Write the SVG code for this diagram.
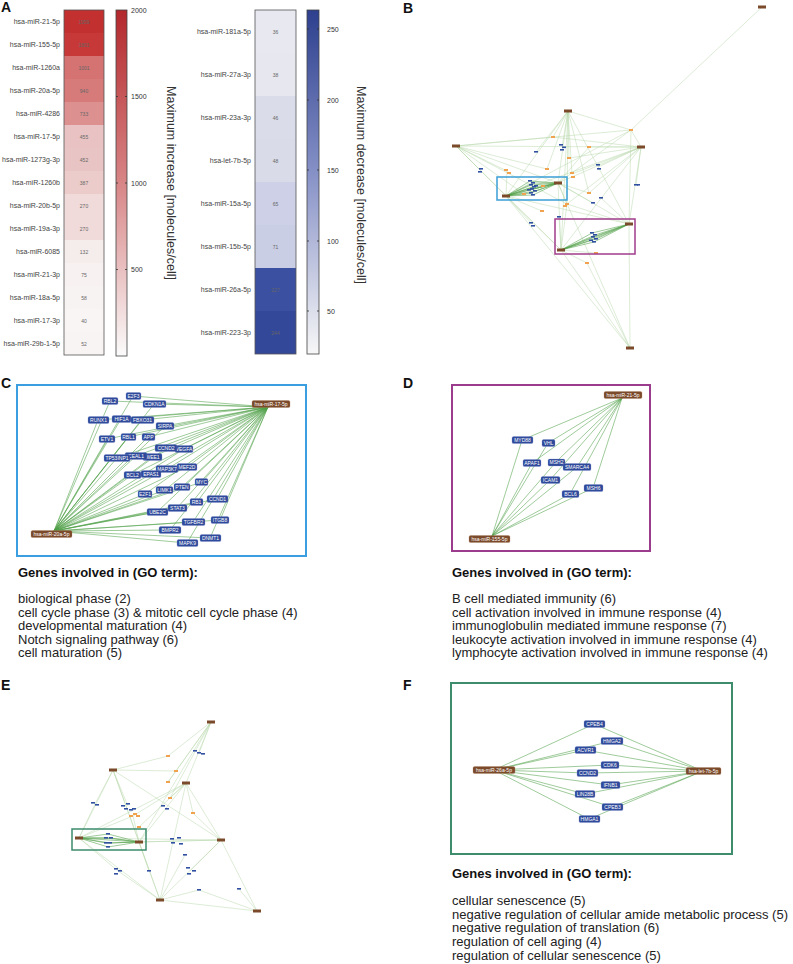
<svg xmlns="http://www.w3.org/2000/svg" width="793" height="964" viewBox="0 0 793 964">
<defs>
<linearGradient id="gR" x1="0" y1="0" x2="0" y2="1"><stop offset="0" stop-color="#b3282c"/><stop offset="0.5" stop-color="#d88586"/><stop offset="1" stop-color="#fbfbfb"/></linearGradient>
<linearGradient id="gB" x1="0" y1="0" x2="0" y2="1"><stop offset="0" stop-color="#2d3f8e"/><stop offset="0.47" stop-color="#8590c6"/><stop offset="1" stop-color="#f7f7f7"/></linearGradient>
</defs>
<style>
text{font-family:"Liberation Sans",Arial,sans-serif}
.lbl{font-size:14px;font-weight:bold;fill:#111}
.row{font-size:7px;fill:#444;text-anchor:end}
.val{font-size:5px;fill:#666;text-anchor:middle}
.tk{font-size:7px;fill:#333}
.cbt{font-size:12.5px;fill:#333;text-anchor:middle}
.hb{stroke:#555;stroke-width:0.8;fill:none}
.tm{stroke:#333;stroke-width:0.8}
.g rect{fill:#2f4a9b;stroke:#7d8fd0;stroke-width:0.3}
.g text,.m text{fill:#fff;font-size:5px;text-anchor:middle}
.m rect{fill:#7b4a2b;stroke:#b08060;stroke-width:0.3}
.e{stroke:#4f9f48;stroke-width:0.55;fill:none}
.el{stroke:#b8d9ad;stroke-width:0.5;fill:none}
.ed{stroke:#4e9e46;stroke-width:0.55;fill:none}
.sm{fill:#7b4a2b}
.so{fill:#f0a24e}
.sb{fill:#3150a2}
.got{font-size:13px;font-weight:bold;fill:#111}
.go{font-size:13px;fill:#222}
</style>

<!-- Panel labels -->
<text class="lbl" x="1" y="12">A</text>
<text class="lbl" x="403" y="13">B</text>
<text class="lbl" x="1" y="388">C</text>
<text class="lbl" x="403" y="388">D</text>
<text class="lbl" x="1" y="690">E</text>
<text class="lbl" x="403" y="690">F</text>

<!-- Panel A heatmap 1 -->
<g id="heatmap-increase">
<rect x="64" y="10" width="40" height="23" fill="#c2302f"/>
<rect x="64" y="33" width="40" height="23" fill="#c73938"/>
<rect x="64" y="56" width="40" height="23" fill="#d47372"/>
<rect x="64" y="79" width="40" height="23" fill="#d67b7a"/>
<rect x="64" y="102" width="40" height="23" fill="#dc9190"/>
<rect x="64" y="125" width="40" height="23" fill="#e9c3c3"/>
<rect x="64" y="148" width="40" height="23" fill="#e9c4c4"/>
<rect x="64" y="171" width="40" height="23" fill="#ecccca"/>
<rect x="64" y="194" width="40" height="23" fill="#f0dada"/>
<rect x="64" y="217" width="40" height="23" fill="#f0dada"/>
<rect x="64" y="240" width="40" height="23" fill="#f5ecec"/>
<rect x="64" y="263" width="40" height="23" fill="#f7f1f1"/>
<rect x="64" y="286" width="40" height="23" fill="#f8f3f3"/>
<rect x="64" y="309" width="40" height="23" fill="#f9f5f5"/>
<rect x="64" y="332" width="40" height="23" fill="#f8f4f4"/>
<rect class="hb" x="64" y="10" width="40" height="345"/>
<text class="row" x="60" y="24">hsa-miR-21-5p</text>
<text class="row" x="60" y="47">hsa-miR-155-5p</text>
<text class="row" x="60" y="70">hsa-miR-1260a</text>
<text class="row" x="60" y="93">hsa-miR-20a-5p</text>
<text class="row" x="60" y="116">hsa-miR-4286</text>
<text class="row" x="60" y="139">hsa-miR-17-5p</text>
<text class="row" x="60" y="162">hsa-miR-1273g-3p</text>
<text class="row" x="60" y="185">hsa-miR-1260b</text>
<text class="row" x="60" y="208">hsa-miR-20b-5p</text>
<text class="row" x="60" y="231">hsa-miR-19a-3p</text>
<text class="row" x="60" y="254">hsa-miR-6085</text>
<text class="row" x="60" y="277">hsa-miR-21-3p</text>
<text class="row" x="60" y="300">hsa-miR-18a-5p</text>
<text class="row" x="60" y="323">hsa-miR-17-3p</text>
<text class="row" x="60" y="346">hsa-miR-29b-1-5p</text>
<text class="val" x="84" y="23.5">1959</text>
<text class="val" x="84" y="46.5">1801</text>
<text class="val" x="84" y="69.5">1001</text>
<text class="val" x="84" y="92.5">940</text>
<text class="val" x="84" y="115.5">733</text>
<text class="val" x="84" y="138.5">455</text>
<text class="val" x="84" y="161.5">452</text>
<text class="val" x="84" y="184.5">387</text>
<text class="val" x="84" y="207.5">270</text>
<text class="val" x="84" y="230.5">270</text>
<text class="val" x="84" y="253.5">132</text>
<text class="val" x="84" y="276.5">75</text>
<text class="val" x="84" y="299.5">58</text>
<text class="val" x="84" y="322.5">40</text>
<text class="val" x="84" y="345.5">52</text>
</g>
<g id="colorbar-increase">
<rect x="116" y="10" width="11" height="346" fill="url(#gR)" stroke="#444" stroke-width="0.8"/>
<path class="tm" d="M116 96.5h2M125 96.5h2M116 183h2M125 183h2M116 269.5h2M125 269.5h2"/>
<text class="tk" x="131" y="12.5">2000</text>
<text class="tk" x="131" y="99">1500</text>
<text class="tk" x="131" y="185.5">1000</text>
<text class="tk" x="131" y="272">500</text>
<text class="cbt" transform="translate(167,183) rotate(90)">Maximum increase [molecules/cell]</text>
</g>

<!-- Panel A heatmap 2 -->
<g id="heatmap-decrease">
<rect x="255" y="10" width="41" height="43" fill="#e7e8f0"/>
<rect x="255" y="53" width="41" height="43" fill="#e6e7ef"/>
<rect x="255" y="96" width="41" height="43" fill="#dbdcea"/>
<rect x="255" y="139" width="41" height="43" fill="#d9dbe9"/>
<rect x="255" y="182" width="41" height="43" fill="#cdd0e6"/>
<rect x="255" y="225" width="41" height="43" fill="#cacee5"/>
<rect x="255" y="268" width="41" height="43" fill="#3b50a0"/>
<rect x="255" y="311" width="41" height="43" fill="#34489a"/>
<rect class="hb" x="255" y="10" width="41" height="344"/>
<text class="row" x="251" y="34">hsa-miR-181a-5p</text>
<text class="row" x="251" y="77">hsa-miR-27a-3p</text>
<text class="row" x="251" y="120">hsa-miR-23a-3p</text>
<text class="row" x="251" y="163">hsa-let-7b-5p</text>
<text class="row" x="251" y="206">hsa-miR-15a-5p</text>
<text class="row" x="251" y="249">hsa-miR-15b-5p</text>
<text class="row" x="251" y="292">hsa-miR-26a-5p</text>
<text class="row" x="251" y="335">hsa-miR-223-3p</text>
<text class="val" x="275.5" y="33.5">36</text>
<text class="val" x="275.5" y="76.5">38</text>
<text class="val" x="275.5" y="119.5">46</text>
<text class="val" x="275.5" y="162.5">48</text>
<text class="val" x="275.5" y="205.5">65</text>
<text class="val" x="275.5" y="248.5">71</text>
<text class="val" x="275.5" y="291.5" fill="#22337a">227</text>
<text class="val" x="275.5" y="334.5" fill="#22337a">244</text>
</g>
<g id="colorbar-decrease">
<rect x="307" y="10" width="12" height="344" fill="url(#gB)" stroke="#444" stroke-width="0.8"/>
<path class="tm" d="M307 29h2M317 29h2M307 100h2M317 100h2M307 170h2M317 170h2M307 241h2M317 241h2M307 311h2M317 311h2"/>
<text class="tk" x="327" y="31.5">250</text>
<text class="tk" x="327" y="102.5">200</text>
<text class="tk" x="327" y="172.5">150</text>
<text class="tk" x="327" y="243.5">100</text>
<text class="tk" x="327" y="313.5">50</text>
<text class="cbt" transform="translate(357,185) rotate(90)">Maximum decrease [molecules/cell]</text>
</g>

<!-- Connectors -->
<g id="connectors">
<!-- Panel B -->
<path class="el" d="M762 7L631 130M568 111L506 196M568 111L558 183M568 111L561 250M568 111L629 224M568 111L631 130M568 111L547 169M568 111L572 174M568 111L562 147M568 111L569 158M568 111L589 193M568 111L553 137M568 111L536 152M568 111L567 204M456 146L641 147M456 146L506 196M456 146L558 183M456 146L507 171M456 146L480 170M456 146L547 169M456 146L553 137M456 146L567 204M456 146L524 194M456 146L561 250M456 146L631 130M641 147L629 224M641 147L561 250M641 147L558 183M641 147L506 196M641 147L589 147M641 147L598 167M641 147L636 185M641 147L567 204M641 147L589 193M641 147L631 130M641 147L572 174M506 196L561 250M506 196L542 211M506 196L532 224M506 196L524 194M506 196L507 171M558 183L561 250M558 183L629 224M558 183L567 204M558 183L589 193M558 183L593 203M558 183L589 147M629 224L630 348M629 224L567 204M629 224L601 198M629 224L631 130M629 224L506 196M561 250L630 348M561 250L587 263M561 250L596 253M561 250L559 217M561 250L567 204M630 348L587 263M630 348L506 196M630 348L558 183M631 130L506 196M631 130L558 183M553 137L641 147M569 158L641 147"/>
<path class="ed" d="M506 196L558 183M506 196L530 181M506 196L533 183M506 196L531 185M506 196L534 187M506 196L532 189M506 196L535 191M506 196L531 193M506 196L533 195M506 196L536 186M558 183L530 181M558 183L533 183M558 183L531 185M558 183L534 187M558 183L532 189M558 183L535 191M558 183L531 193M558 183L533 195M558 183L529 190M629 224L561 250M629 224L592 233M629 224L595 235M629 224L593 237M629 224L596 239M629 224L591 240M629 224L594 242M561 250L592 233M561 250L595 235M561 250L593 237M561 250L596 239M561 250L591 240M561 250L594 242"/>
<!-- Panel C -->
<path class="e" d="M54 531L110 401M54 531L133 396M54 531L154 404M54 531L98 420M54 531L121 419M54 531L142 420M54 531L165 426M54 531L107 439M54 531L128 437M54 531L148 437M54 531L166 448M54 531L184 449M54 531L117 458M54 531L136 456M54 531L152 457M54 531L167 469M54 531L187 467M54 531L132 475M54 531L151 474M54 531L202 482M54 531L145 494M54 531L165 490M54 531L182 487M54 531L197 502M54 531L217 499M54 531L157 512M54 531L177 508M54 531L193 522M54 531L220 520M54 531L170 530M54 531L210 538M54 531L187 543M268 407L110 401M268 407L133 396M268 407L154 404M268 407L98 420M268 407L121 419M268 407L142 420M268 407L165 426M268 407L107 439M268 407L128 437M268 407L148 437M268 407L166 448M268 407L184 449M268 407L117 458M268 407L136 456M268 407L152 457M268 407L167 469M268 407L187 467M268 407L132 475M268 407L151 474M268 407L202 482M268 407L145 494M268 407L165 490M268 407L182 487M268 407L197 502M268 407L217 499M268 407L157 512M268 407L177 508M268 407L193 522M268 407L220 520M268 407L170 530M268 407L210 538M268 407L187 543"/>
<!-- Panel D -->
<path class="e" stroke-width="0.5" d="M622 398L522 440M622 398L548 443M622 398L532 463M622 398L556 462M622 398L577 467M622 398L550 480M622 398L593 488M622 398L570 494M492 536L522 440M492 536L548 443M492 536L532 463M492 536L556 462M492 536L577 467M492 536L550 480M492 536L593 488M492 536L570 494"/>
<!-- Panel E -->
<path class="el" d="M113 770L168 756M168 756L211 722M113 770L176 771M211 722L186 783M211 722L176 771M211 722L168 782M211 722L199 753M211 722L139 842M211 722L170 798M113 770L79 838M113 770L139 842M113 770L160 900M113 770L221 840M113 770L128 806M113 770L95 804M186 783L79 838M186 783L139 842M186 783L221 840M186 783L160 900M186 783L170 798M186 783L193 813M186 783L139 827M186 783L133 816M79 838L221 840M79 838L160 900M79 838L95 804M79 838L133 816M79 838L118 871M139 842L221 840M139 842L160 900M139 842L176 841M139 842L133 816M139 842L149 871M221 840L160 900M221 840L257 911M221 840L193 813M221 840L190 871M221 840L176 841M160 900L257 911M160 900L118 871M160 900L185 855M160 900L199 890M257 911L239 889M257 911L199 890M176 771L168 782"/>
<path class="ed" d="M79 838L139 842M79 838L108 834M79 838L106 838M79 838L111 838M79 838L106 843M79 838L110 843M79 838L108 847M139 842L108 834M139 842L106 838M139 842L111 838M139 842L106 843M139 842L110 843M139 842L108 847"/>
<!-- Panel F -->
<path class="e" stroke-width="0.5" d="M494 770L594 724M494 770L612 741M494 770L585 750M494 770L610 765M494 770L587 773M494 770L610 785M494 770L585 794M494 770L612 807M494 770L589 819M703 771L594 724M703 771L612 741M703 771L585 750M703 771L610 765M703 771L587 773M703 771L610 785M703 771L585 794M703 771L612 807M703 771L589 819"/>
</g>

<!-- Panel B network nodes -->
<g id="network-B">
<rect class="sm" x="758" y="5.5" width="8" height="3"/>
<rect class="sm" x="564" y="109.5" width="8" height="3"/>
<rect class="sm" x="452" y="144.5" width="8" height="3"/>
<rect class="sm" x="637" y="145.5" width="8" height="3"/>
<rect class="sm" x="502" y="194.5" width="8" height="3"/>
<rect class="sm" x="554" y="181.5" width="8" height="3"/>
<rect class="sm" x="625" y="222.5" width="8" height="3"/>
<rect class="sm" x="557" y="248.5" width="8" height="3"/>
<rect class="sm" x="626" y="346.5" width="8" height="3"/>
<g class="so">
<rect x="629" y="129" width="4" height="2"/><rect x="551" y="136" width="4" height="2"/><rect x="587" y="146" width="4" height="2"/><rect x="567" y="157" width="4" height="2"/><rect x="545" y="168" width="4" height="2"/><rect x="504" y="169" width="4" height="2"/><rect x="507" y="172" width="4" height="2"/><rect x="570" y="172" width="4" height="2"/><rect x="571" y="176" width="4" height="2"/><rect x="587" y="192" width="4" height="2"/><rect x="565" y="203" width="4" height="2"/><rect x="563" y="205" width="4" height="2"/><rect x="540" y="210" width="4" height="2"/><rect x="585" y="262" width="4" height="2"/><rect x="594" y="252" width="4" height="2"/><rect x="522" y="193" width="4" height="2"/><rect x="541" y="185" width="4" height="2"/>
</g>
<g class="sb">
<rect x="559" y="144" width="4" height="1.6"/><rect x="562" y="146.5" width="4" height="1.6"/><rect x="560" y="149" width="4" height="1.6"/><rect x="534" y="151" width="4" height="1.6"/><rect x="479" y="168" width="4" height="1.6"/><rect x="478" y="171" width="4" height="1.6"/><rect x="596" y="164" width="4" height="1.6"/><rect x="597" y="168" width="4" height="1.6"/><rect x="634" y="184" width="4" height="1.6"/><rect x="637" y="184" width="3" height="1.6"/>
<rect x="528" y="180" width="4" height="1.6"/><rect x="531" y="182" width="4" height="1.6"/><rect x="529" y="184" width="4" height="1.6"/><rect x="532" y="186" width="4" height="1.6"/><rect x="530" y="188" width="4" height="1.6"/><rect x="533" y="190" width="4" height="1.6"/><rect x="529" y="192" width="4" height="1.6"/><rect x="531" y="194" width="4" height="1.6"/><rect x="534" y="185" width="4" height="1.6"/><rect x="527" y="189" width="4" height="1.6"/>
<rect x="599" y="197" width="4" height="1.6"/><rect x="591" y="202" width="4" height="1.6"/><rect x="557" y="216" width="4" height="1.6"/><rect x="529" y="222" width="4" height="1.6"/><rect x="531" y="225" width="4" height="1.6"/>
<rect x="590" y="232" width="4" height="1.6"/><rect x="593" y="234" width="4" height="1.6"/><rect x="591" y="236" width="4" height="1.6"/><rect x="594" y="238" width="4" height="1.6"/><rect x="589" y="239.5" width="4" height="1.6"/><rect x="592" y="241" width="4" height="1.6"/>
</g>
<rect x="497" y="177" width="70" height="23" fill="none" stroke="#3a9fd8" stroke-width="1.5"/>
<rect x="555" y="219" width="80" height="35" fill="none" stroke="#a03c8c" stroke-width="1.5"/>
</g>

<!-- Panel C -->
<g id="panel-C">
<rect x="17" y="385" width="289" height="171" fill="none" stroke="#3a9ee0" stroke-width="2"/>
<g id="C-RBL2" class="g"><rect x="102" y="397.5" width="16" height="7" rx="1.5"/><text x="110" y="402.8">RBL2</text></g>
<g id="C-E2F3" class="g"><rect x="126" y="392.5" width="15" height="7" rx="1.5"/><text x="133.5" y="397.8">E2F3</text></g>
<g id="C-CDKN1A" class="g"><rect x="143" y="400.5" width="23" height="7" rx="1.5"/><text x="154.5" y="405.8">CDKN1A</text></g>
<g id="C-RUNX1" class="g"><rect x="88" y="416.5" width="21" height="7" rx="1.5"/><text x="98.5" y="421.8">RUNX1</text></g>
<g id="C-HIF1A" class="g"><rect x="112" y="415.5" width="19" height="7" rx="1.5"/><text x="121.5" y="420.8">HIF1A</text></g>
<g id="C-FBXO31" class="g"><rect x="131" y="416.5" width="23" height="7" rx="1.5"/><text x="142.5" y="421.8">FBXO31</text></g>
<g id="C-SIRPA" class="g"><rect x="156" y="422.5" width="18" height="7" rx="1.5"/><text x="165" y="427.8">SIRPA</text></g>
<g id="C-ETV1" class="g"><rect x="99" y="435.5" width="16" height="7" rx="1.5"/><text x="107" y="440.8">ETV1</text></g>
<g id="C-RBL1" class="g"><rect x="121" y="433.5" width="15" height="7" rx="1.5"/><text x="128.5" y="438.8">RBL1</text></g>
<g id="C-APP" class="g"><rect x="142" y="433.5" width="13" height="7" rx="1.5"/><text x="148.5" y="438.8">APP</text></g>
<g id="C-VEGFA" class="g"><rect x="175" y="445.5" width="18" height="7" rx="1.5"/><text x="184" y="450.8">VEGFA</text></g>
<g id="C-CCND2" class="g"><rect x="155" y="444.5" width="22" height="7" rx="1.5"/><text x="166" y="449.8">CCND2</text></g>
<g id="C-WEE1" class="g"><rect x="143" y="453.5" width="19" height="7" rx="1.5"/><text x="152.5" y="458.8">WEE1</text></g>
<g id="C-EAL1" class="g"><rect x="125" y="452.5" width="22" height="7" rx="1.5"/><text x="136" y="457.8">CEAL1</text></g>
<g id="C-TP53INP1" class="g"><rect x="104" y="454.5" width="26" height="7" rx="1.5"/><text x="117" y="459.8">TP53INP1</text></g>
<g id="C-MAP3K7" class="g"><rect x="156" y="465.5" width="22" height="7" rx="1.5"/><text x="167" y="470.8">MAP3K7</text></g>
<g id="C-MEF2D" class="g"><rect x="177" y="463.5" width="20" height="7" rx="1.5"/><text x="187" y="468.8">MEF2D</text></g>
<g id="C-BCL2" class="g"><rect x="124" y="471.5" width="17" height="7" rx="1.5"/><text x="132.5" y="476.8">BCL2</text></g>
<g id="C-EPAS1" class="g"><rect x="141" y="470.5" width="20" height="7" rx="1.5"/><text x="151" y="475.8">EPAS1</text></g>
<g id="C-MYC" class="g"><rect x="195" y="478.5" width="13" height="7" rx="1.5"/><text x="201.5" y="483.8">MYC</text></g>
<g id="C-E2F1" class="g"><rect x="138" y="490.5" width="14" height="7" rx="1.5"/><text x="145" y="495.8">E2F1</text></g>
<g id="C-LIMK1" class="g"><rect x="156" y="486.5" width="17" height="7" rx="1.5"/><text x="164.5" y="491.8">LIMK1</text></g>
<g id="C-PTEN" class="g"><rect x="174" y="483.5" width="16" height="7" rx="1.5"/><text x="182" y="488.8">PTEN</text></g>
<g id="C-RB1" class="g"><rect x="190" y="498.5" width="13" height="7" rx="1.5"/><text x="196.5" y="503.8">RB1</text></g>
<g id="C-CCND1" class="g"><rect x="207" y="495.5" width="21" height="7" rx="1.5"/><text x="217.5" y="500.8">CCND1</text></g>
<g id="C-UBE2C" class="g"><rect x="147" y="508.5" width="21" height="7" rx="1.5"/><text x="157.5" y="513.8">UBE2C</text></g>
<g id="C-STAT3" class="g"><rect x="168" y="504.5" width="19" height="7" rx="1.5"/><text x="177.5" y="509.8">STAT3</text></g>
<g id="C-TGFBR2" class="g"><rect x="182" y="518.5" width="23" height="7" rx="1.5"/><text x="193.5" y="523.8">TGFBR2</text></g>
<g id="C-ITGB8" class="g"><rect x="211" y="516.5" width="18" height="7" rx="1.5"/><text x="220" y="521.8">ITGB8</text></g>
<g id="C-BMPR2" class="g"><rect x="159" y="526.5" width="22" height="7" rx="1.5"/><text x="170" y="531.8">BMPR2</text></g>
<g id="C-DNMT1" class="g"><rect x="200" y="534.5" width="21" height="7" rx="1.5"/><text x="210.5" y="539.8">DNMT1</text></g>
<g id="C-MAPK9" class="g"><rect x="177" y="539.5" width="21" height="7" rx="1.5"/><text x="187.5" y="544.8">MAPK9</text></g>
<g id="C-miR-20a-5p" class="m"><rect x="31" y="530.5" width="41" height="7" rx="1.5"/><text x="51.5" y="535.8">hsa-miR-20a-5p</text></g>
<g id="C-miR-17-5p" class="m"><rect x="252" y="400.5" width="38" height="7" rx="1.5"/><text x="271" y="405.8">hsa-miR-17-5p</text></g>
</g>

<!-- Panel D -->
<g id="panel-D">
<rect x="452" y="385" width="198" height="166" fill="none" stroke="#9c3c8c" stroke-width="2"/>
<g id="D-MYD88" class="g"><rect x="512" y="436.5" width="21" height="7" rx="1.5"/><text x="522.5" y="441.8">MYD88</text></g>
<g id="D-VHL" class="g"><rect x="542" y="439.5" width="13" height="7" rx="1.5"/><text x="548.5" y="444.8">VHL</text></g>
<g id="D-APAF1" class="g"><rect x="523" y="459.5" width="18" height="7" rx="1.5"/><text x="532" y="464.8">APAF1</text></g>
<g id="D-MSH2" class="g"><rect x="548" y="459" width="17" height="7" rx="1.5"/><text x="556.5" y="464.3">MSH2</text></g>
<g id="D-SMARCA4" class="g"><rect x="563" y="463.5" width="28" height="7" rx="1.5"/><text x="577" y="468.8">SMARCA4</text></g>
<g id="D-ICAM1" class="g"><rect x="541" y="476.5" width="19" height="7" rx="1.5"/><text x="550.5" y="481.8">ICAM1</text></g>
<g id="D-MSH6" class="g"><rect x="584" y="484.5" width="19" height="7" rx="1.5"/><text x="593.5" y="489.8">MSH6</text></g>
<g id="D-BCL6" class="g"><rect x="562" y="490.5" width="17" height="7" rx="1.5"/><text x="570.5" y="495.8">BCL6</text></g>
<g id="D-miR-21-5p" class="m"><rect x="604" y="391.5" width="38" height="7" rx="1.5"/><text x="623" y="396.8">hsa-miR-21-5p</text></g>
<g id="D-miR-155-5p" class="m"><rect x="469" y="535.5" width="41" height="7" rx="1.5"/><text x="489.5" y="540.8">hsa-miR-155-5p</text></g>
</g>

<!-- GO texts C and D -->
<g id="go-C">
<text class="got" x="18" y="577">Genes involved in (GO term):</text>
<text class="go" x="18" y="603">biological phase (2)</text>
<text class="go" x="18" y="617">cell cycle phase (3) &amp; mitotic cell cycle phase (4)</text>
<text class="go" x="18" y="630">developmental maturation (4)</text>
<text class="go" x="18" y="644">Notch signaling pathway (6)</text>
<text class="go" x="18" y="657">cell maturation (5)</text>
</g>
<g id="go-D">
<text class="got" x="452" y="577">Genes involved in (GO term):</text>
<text class="go" x="452" y="603">B cell mediated immunity (6)</text>
<text class="go" x="452" y="617">cell activation involved in immune response (4)</text>
<text class="go" x="452" y="630">immunoglobulin mediated immune response (7)</text>
<text class="go" x="452" y="644">leukocyte activation involved in immune response (4)</text>
<text class="go" x="452" y="657">lymphocyte activation involved in immune response (4)</text>
</g>

<!-- Panel E network nodes -->
<g id="network-E">
<rect class="sm" x="207" y="720.5" width="8" height="3"/>
<rect class="sm" x="109" y="768.5" width="8" height="3"/>
<rect class="sm" x="182" y="781.5" width="8" height="3"/>
<rect class="sm" x="75" y="836.5" width="8" height="3"/>
<rect class="sm" x="135" y="840.5" width="8" height="3"/>
<rect class="sm" x="217" y="838.5" width="8" height="3"/>
<rect class="sm" x="156" y="898.5" width="8" height="3"/>
<rect class="sm" x="253" y="909.5" width="8" height="3"/>
<g class="so">
<rect x="166" y="755" width="4" height="2"/><rect x="174" y="770" width="4" height="2"/><rect x="166" y="781" width="4" height="2"/><rect x="168" y="797" width="4" height="2"/><rect x="129" y="815" width="4" height="2"/><rect x="133" y="813" width="4" height="2"/><rect x="136" y="815" width="4" height="2"/><rect x="191" y="812" width="4" height="2"/><rect x="137" y="826" width="4" height="2"/>
</g>
<g class="sb">
<rect x="193" y="750" width="4" height="1.6"/><rect x="197" y="752" width="4" height="1.6"/><rect x="201" y="753" width="4" height="1.6"/><rect x="91" y="802" width="4" height="1.6"/><rect x="95" y="804" width="4" height="1.6"/>
<rect x="121" y="805" width="4" height="1.6"/><rect x="126" y="803" width="4" height="1.6"/><rect x="124" y="808" width="4" height="1.6"/><rect x="129" y="809" width="4" height="1.6"/><rect x="132" y="808" width="4" height="1.6"/>
<rect x="161" y="805" width="4" height="1.6"/><rect x="165" y="808" width="4" height="1.6"/>
<rect x="106" y="833" width="4" height="1.6"/><rect x="104" y="837" width="4" height="1.6"/><rect x="109" y="837" width="4" height="1.6"/><rect x="104" y="842" width="4" height="1.6"/><rect x="108" y="842" width="4" height="1.6"/><rect x="106" y="846" width="4" height="1.6"/>
<rect x="170" y="838" width="4" height="1.6"/><rect x="177" y="837" width="4" height="1.6"/><rect x="171" y="842" width="4" height="1.6"/><rect x="179" y="843" width="4" height="1.6"/>
<rect x="183" y="854" width="4" height="1.6"/><rect x="114" y="868" width="4" height="1.6"/><rect x="118" y="870" width="4" height="1.6"/><rect x="114" y="873" width="4" height="1.6"/><rect x="147" y="870" width="4" height="1.6"/>
<rect x="186" y="867" width="4" height="1.6"/><rect x="192" y="870" width="4" height="1.6"/><rect x="187" y="873" width="4" height="1.6"/><rect x="197" y="889" width="4" height="1.6"/><rect x="237" y="888" width="4" height="1.6"/>
</g>
<rect x="72" y="829" width="74" height="21" fill="none" stroke="#3d8c6c" stroke-width="1.5"/>
</g>

<!-- Panel F -->
<g id="panel-F">
<rect x="451" y="683" width="281" height="171" fill="none" stroke="#3d8c6c" stroke-width="2"/>
<g id="F-CPEB4" class="g"><rect x="584" y="720.5" width="21" height="7" rx="1.5"/><text x="594.5" y="725.8">CPEB4</text></g>
<g id="F-HMGA2" class="g"><rect x="601" y="737.5" width="22" height="7" rx="1.5"/><text x="612" y="742.8">HMGA2</text></g>
<g id="F-ACVR1" class="g"><rect x="575" y="746.5" width="21" height="7" rx="1.5"/><text x="585.5" y="751.8">ACVR1</text></g>
<g id="F-CDK6" class="g"><rect x="601" y="761.5" width="18" height="7" rx="1.5"/><text x="610" y="766.8">CDK6</text></g>
<g id="F-CCND2" class="g"><rect x="577" y="769.5" width="21" height="7" rx="1.5"/><text x="587.5" y="774.8">CCND2</text></g>
<g id="F-IFNB1" class="g"><rect x="601" y="781.5" width="19" height="7" rx="1.5"/><text x="610.5" y="786.8">IFNB1</text></g>
<g id="F-LIN28B" class="g"><rect x="575" y="790.5" width="20" height="7" rx="1.5"/><text x="585" y="795.8">LIN28B</text></g>
<g id="F-CPEB3" class="g"><rect x="602" y="803.5" width="21" height="7" rx="1.5"/><text x="612.5" y="808.8">CPEB3</text></g>
<g id="F-HMGA1" class="g"><rect x="579" y="815.5" width="21" height="7" rx="1.5"/><text x="589.5" y="820.8">HMGA1</text></g>
<g id="F-miR-26a-5p" class="m"><rect x="473" y="766.5" width="42" height="7" rx="1.5"/><text x="494" y="771.8">hsa-miR-26a-5p</text></g>
<g id="F-let-7b-5p" class="m"><rect x="686" y="767.5" width="35" height="7" rx="1.5"/><text x="703.5" y="772.8">hsa-let-7b-5p</text></g>
</g>
<g id="go-F">
<text class="got" x="452" y="878">Genes involved in (GO term):</text>
<text class="go" x="452" y="905">cellular senescence (5)</text>
<text class="go" x="452" y="919">negative regulation of cellular amide metabolic process (5)</text>
<text class="go" x="452" y="932">negative regulation of translation (6)</text>
<text class="go" x="452" y="946">regulation of cell aging (4)</text>
<text class="go" x="452" y="960">regulation of cellular senescence (5)</text>
</g>
</svg>
